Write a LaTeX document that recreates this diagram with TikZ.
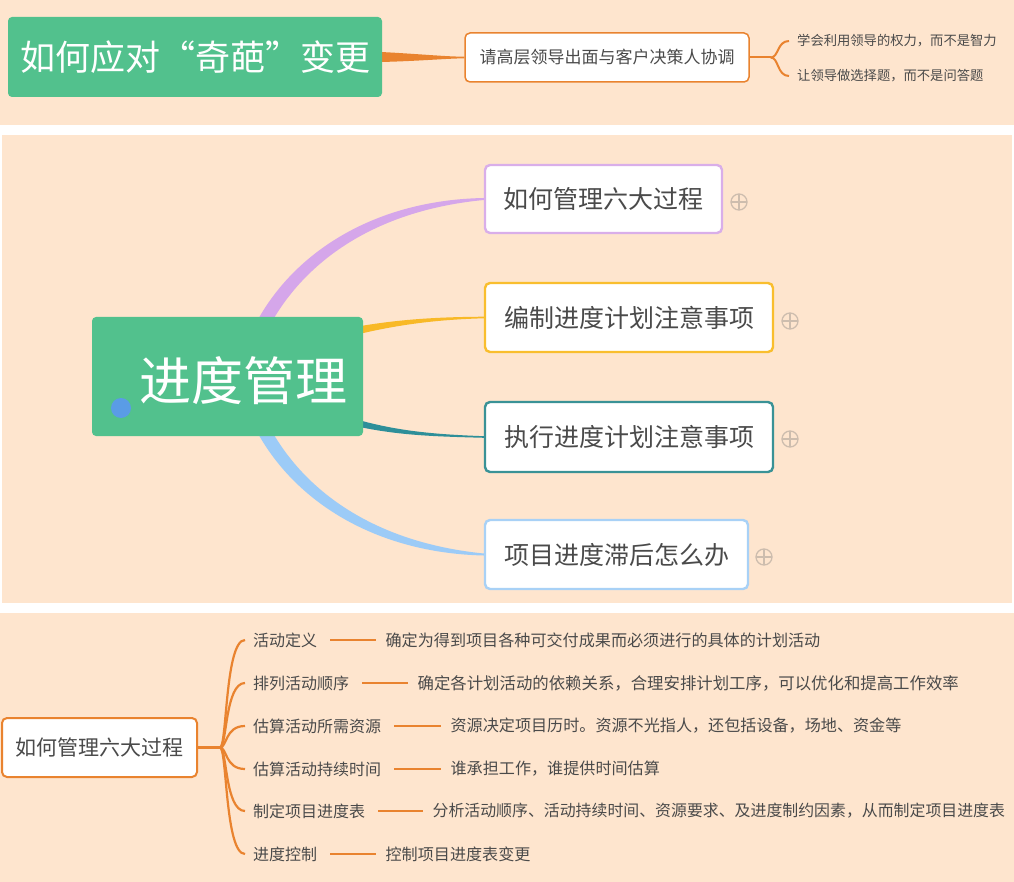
\documentclass[tikz,border=0pt]{standalone}
\usepackage{fontspec}
\setmainfont{Noto Sans CJK SC}
\usetikzlibrary{calc}
\pgfdeclarelayer{bg}
\pgfsetlayers{bg,main}
\definecolor{peach}{HTML}{FEE5CE}
\definecolor{xgreen}{HTML}{52C18D}
\definecolor{xorange}{HTML}{E9832F}
\definecolor{xtext}{HTML}{4A4A4A}
\definecolor{xpurple}{HTML}{D5A6EA}
\definecolor{xyellow}{HTML}{F8B927}
\definecolor{xteal}{HTML}{2E8F99}
\definecolor{xblue}{HTML}{9CCBF7}
\definecolor{bpurple}{HTML}{D9AEE9}
\definecolor{byellow}{HTML}{F9BE2E}
\definecolor{bteal}{HTML}{3A9296}
\definecolor{bblue}{HTML}{A8D1F6}
\definecolor{plusgray}{HTML}{CDBDAE}
\definecolor{dotblue}{HTML}{5A9CE6}
\newcommand{\myfs}[1]{\fontsize{#1pt}{#1pt}\selectfont}
\begin{document}
\begin{tikzpicture}[x=1pt,y=-1pt,
  rootbox/.style={fill=xgreen, rounded corners=4pt, text=white, inner sep=0},
  branchbox/.style={fill=white, rounded corners=5pt, line width=2.4pt, inner sep=0, text=xtext, font=\myfs{25}},
  plusic/.style={circle, draw=plusgray, line width=1.3pt, minimum size=16pt, inner sep=0,
    path picture={\draw[plusgray, line width=1.3pt] (path picture bounding box.north) -- (path picture bounding box.south) (path picture bounding box.west) -- (path picture bounding box.east);}},
  leaf/.style={inner sep=0, text=xtext, anchor=west},
  obox/.style={fill=white, draw=xorange, rounded corners=5pt, inner sep=0, text=xtext},
  oline/.style={draw=xorange, line width=2.2pt}
]
\useasboundingbox (0,0) rectangle (1014,882);
% ---------- top panel ----------
\node[rootbox, minimum width=374pt, minimum height=80pt, font=\myfs{35}] (t0) at (195,57) {如何应对“奇葩”变更};
\node[obox, line width=1.5pt, minimum width=284pt, minimum height=49pt, font=\myfs{17}] (t1) at (607,57.5) {请高层领导出面与客户决策人协调};
\node[leaf, font=\myfs{13.3}] (t2) at (797,41) {学会利用领导的权力，而不是智力};
\node[leaf, font=\myfs{13.3}] (t3) at (797,76) {让领导做选择题，而不是问答题};
\coordinate (tj) at ($(t1.east)+(21,0)$);
% ---------- middle panel ----------
\node[rootbox, minimum width=271pt, minimum height=119pt, font=\myfs{52}, text height=50pt, text depth=1.4pt] (root) at (227.5,376.5) {\hspace*{31pt}进度管理};
\node[circle, fill=dotblue, minimum size=20pt, inner sep=0] (dot) at (121,408) {};
\node[branchbox, draw=bpurple, minimum width=237pt, minimum height=68pt] (b1) at (603.5,199) {如何管理六大过程};
\node[branchbox, draw=byellow, minimum width=288pt, minimum height=69pt] (b2) at (629,317.5) {编制进度计划注意事项};
\node[branchbox, draw=bteal, minimum width=288pt, minimum height=70pt] (b3) at (629,437) {执行进度计划注意事项};
\node[branchbox, draw=bblue, minimum width=263pt, minimum height=69pt] (b4) at (616.5,554.5) {项目进度滞后怎么办};
\node[plusic] (p1) at (739,202) {};
\node[plusic] (p2) at (790,321) {};
\node[plusic] (p3) at (790,439) {};
\node[plusic] (p4) at (764,557) {};
% ---------- bottom panel ----------
\node[obox, line width=2pt, minimum width=195pt, minimum height=59pt, font=\myfs{21}] (h0) at (99.5,747.5) {如何管理六大过程};
\coordinate (hj) at ($(h0.east)+(22,0)$);
\foreach \n/\y/\gap/\fsz/\a/\b in {1/640/68/16.1/活动定义/确定为得到项目各种可交付成果而必须进行的具体的计划活动,
  2/683/68/16.4/排列活动顺序/{确定各计划活动的依赖关系，合理安排计划工序，可以优化和提高工作效率},
  3/726/69/16.1/估算活动所需资源/{资源决定项目历时。资源不光指人，还包括设备，场地、资金等},
  4/769/69/16.1/估算活动持续时间/{谁承担工作，谁提供时间估算},
  5/811/67/15.9/制定项目进度表/{分析活动顺序、活动持续时间、资源要求、及进度制约因素，从而制定项目进度表},
  6/854/68/16.1/进度控制/控制项目进度表变更}{
  \node[leaf, font=\myfs{16}] (r\n) at (253,\y) {\a};
  \node[leaf, font=\myfs{\fsz}] (d\n) at ($(r\n.east)+(\gap,0)$) {\b};
  \draw[oline] ($(r\n.east)+(13,0)$) -- ($(d\n.west)+(-9,0)$);
  \draw[oline] (hj) .. controls ($(hj)+(7,0)$) and ($(r\n.west)+(-28,0)$) .. ($(r\n.west)+(-8,0)$);
}
\draw[oline] (h0.east) -- (hj);
% ---------- background layer ----------
\begin{pgfonlayer}{bg}
\fill[peach] (0,0) rectangle (1014,125);
\fill[peach] (2,135) rectangle (1012,603);
\fill[peach] (0,613) rectangle (1014,882);
% top connector (tapered)
\fill[xorange] ($(t0.east)+(-1,-5)$) .. controls (420,54) and (445,56.6) .. ($(t1.west)+(0,-0.8)$)
  -- ($(t1.west)+(0,0.8)$) .. controls (445,58.6) and (420,61) .. ($(t0.east)+(-1,5)$) -- cycle;
\draw[xorange, line width=2pt] (t1.east) -- (tj);
\draw[xorange, line width=2pt] (tj) .. controls ($(tj)+(8,0)$) and ($(t2.west)+(-20,0)$) .. ($(t2.west)+(-8,0)$);
\draw[xorange, line width=2pt] (tj) .. controls ($(tj)+(8,0)$) and ($(t3.west)+(-20,0)$) .. ($(t3.west)+(-8,0)$);
% middle branches (tapered)
\fill[xpurple] (255,325) .. controls (293,252) and (375,200) .. ($(b1.west)+(0,-1)$)
  -- ($(b1.west)+(0,1)$) .. controls (379,210) and (307,258) .. (270,325) -- cycle;
\fill[xblue] (255,428) .. controls (293,501) and (375,553) .. ($(b4.west)+(0,1)$)
  -- ($(b4.west)+(0,-1)$) .. controls (379,543) and (307,495) .. (270,428) -- cycle;
\fill[xyellow] (355,327) .. controls (400,319) and (440,317) .. ($(b2.west)+(0,-0.8)$)
  -- ($(b2.west)+(0,0.8)$) .. controls (440,319.5) and (400,324) .. (355,335) -- cycle;
\fill[xteal] (355,419) .. controls (400,432) and (440,434.5) .. ($(b3.west)+(0,-0.8)$)
  -- ($(b3.west)+(0,0.8)$) .. controls (440,436.5) and (400,436) .. (355,426) -- cycle;
\end{pgfonlayer}
\end{tikzpicture}
\end{document}
